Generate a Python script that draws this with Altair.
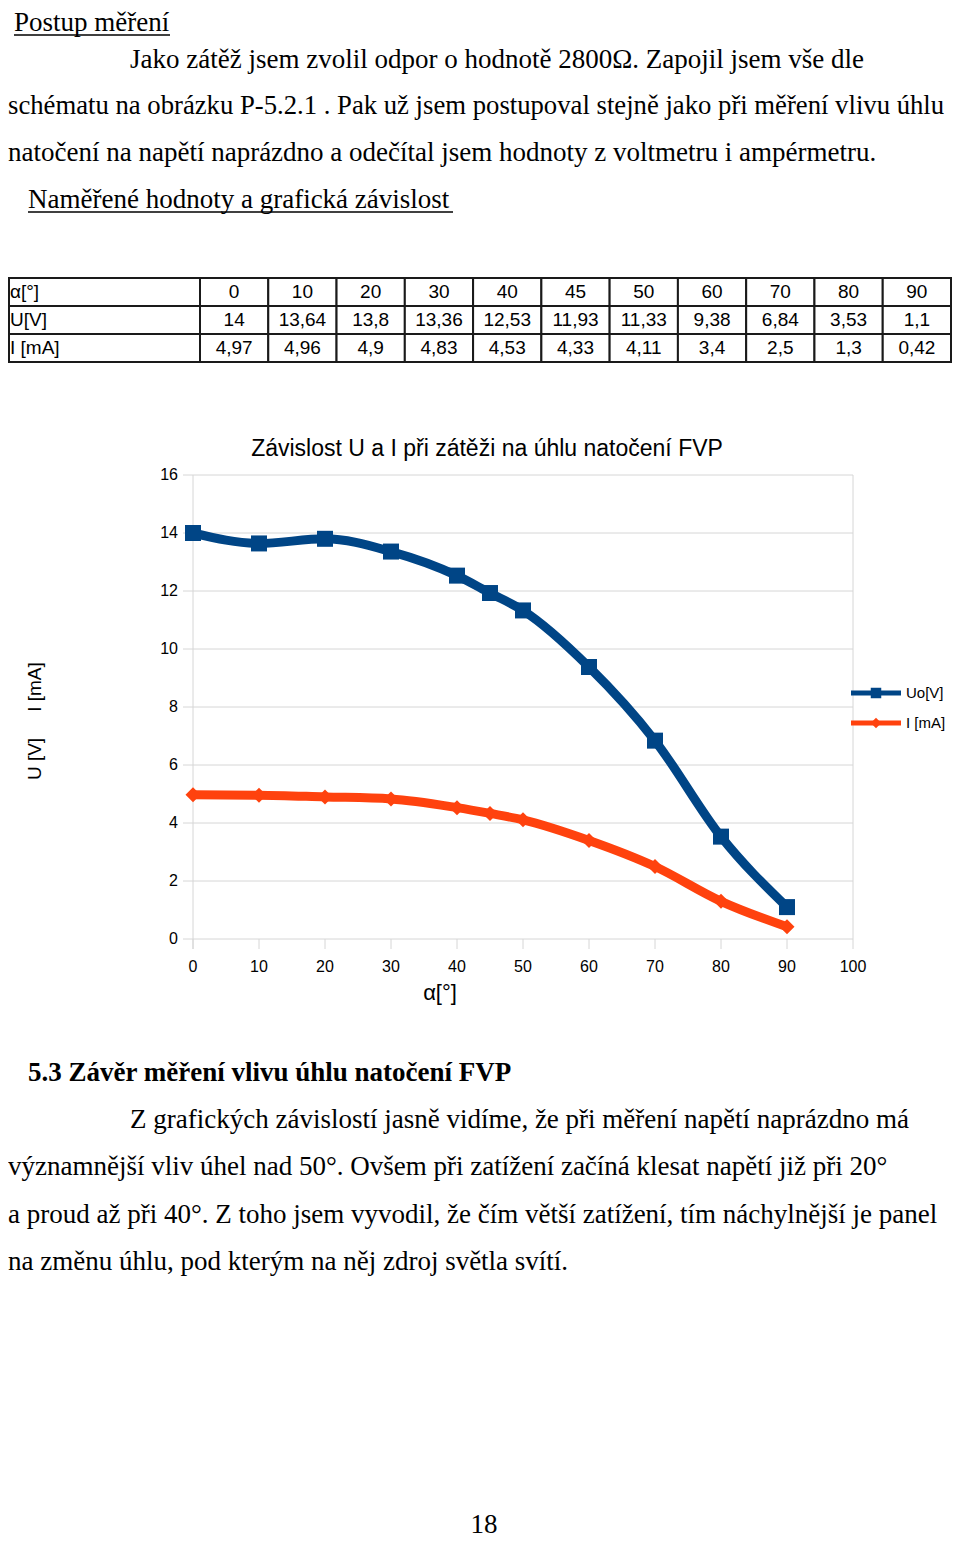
import altair as alt
import pandas as pd

# ---------------- data ----------------
alpha = [0, 10, 20, 30, 40, 45, 50, 60, 70, 80, 90]
u_volts = [14, 13.64, 13.8, 13.36, 12.53, 11.93, 11.33, 9.38, 6.84, 3.53, 1.1]
i_ma = [4.97, 4.96, 4.9, 4.83, 4.53, 4.33, 4.11, 3.4, 2.5, 1.3, 0.42]
row_labels = ["α[°]", "U[V]", "I [mA]"]
series_names = ["Uo[V]", "I [mA]"]
series_colors = ["#004586", "#ff420e"]
x_ticks = [0, 10, 20, 30, 40, 50, 60, 70, 80, 90, 100]
y_ticks = [0, 2, 4, 6, 8, 10, 12, 14, 16]

chart_title = "Závislost U a I při zátěži na úhlu natočení FVP"
x_title = "α[°]"
y_title_u = "U [V]"
y_title_i = "I [mA]"

heading_1 = "Postup měření"
paragraph_1 = [
    "Jako zátěž jsem zvolil odpor o hodnotě 2800Ω. Zapojil jsem vše dle",
    "schématu na obrázku P-5.2.1 . Pak už jsem postupoval stejně jako při měření vlivu úhlu",
    "natočení na napětí naprázdno a odečítal jsem hodnoty z voltmetru i ampérmetru.",
]
heading_2 = "Naměřené hodnoty a grafická závislost"
heading_3 = "5.3 Závěr měření vlivu úhlu natočení FVP"
paragraph_2 = [
    "Z grafických závislostí jasně vidíme, že při měření napětí naprázdno má",
    "významnější vliv úhel nad 50°. Ovšem při zatížení začíná klesat napětí již při 20°",
    "a proud až při 40°. Z toho jsem vyvodil, že čím větší zatížení, tím náchylnější je panel",
    "na změnu úhlu, pod kterým na něj zdroj světla svítí.",
]
page_number = "18"

# ---------------- layout / style ----------------
OFF = 8
SERIF = "Liberation Serif"
SANS = "Liberation Sans"
GRID = "#d6d6d6"
BODY = 27


def px(v):
    return max(0, v - OFF)


def fmt(v):
    return f"{v:g}".replace(".", ",")


def text_layer(s, x, y, size, font=SERIF, align="left", baseline="alphabetic",
               weight="normal", angle=0, color="#000000"):
    kw = dict(align=align, baseline=baseline, fontSize=size, font=font,
              fontWeight=weight, color=color)
    if angle:
        kw["angle"] = angle
    return alt.Chart(pd.DataFrame({"t": [s]})).mark_text(**kw).encode(
        x=alt.value(px(x)), y=alt.value(px(y)), text="t:N")


def rule_layer(x1, y1, x2, y2, color, width):
    return alt.Chart(pd.DataFrame({"k": [0]})).mark_rule(
        color=color, strokeWidth=width).encode(
        x=alt.value(px(x1)), x2=alt.value(px(x2)),
        y=alt.value(px(y1)), y2=alt.value(px(y2)))


layers = []

# ---------------- top text ----------------
layers.append(text_layer(heading_1, 14, 31, BODY))
layers.append(rule_layer(14, 35, 170, 35, "#000000", 1.5))
layers.append(text_layer(paragraph_1[0], 130, 68, BODY))
layers.append(text_layer(paragraph_1[1], 2, 114, 26.7))
layers.append(text_layer(paragraph_1[2], 2, 161, BODY))
layers.append(text_layer(heading_2, 28, 208, BODY))
layers.append(rule_layer(28, 212, 453, 212, "#000000", 1.5))

# ---------------- table ----------------
rows = []
for a, u, i in zip(alpha, u_volts, i_ma):
    rows.append({"col": str(a), "row": row_labels[0], "val": fmt(a)})
    rows.append({"col": str(a), "row": row_labels[1], "val": fmt(u)})
    rows.append({"col": str(a), "row": row_labels[2], "val": fmt(i)})
table_df = pd.DataFrame(rows)
col_domain = [str(a) for a in alpha]
col_scale = alt.Scale(type="band", domain=col_domain, range=[px(200), px(951)],
                      paddingInner=0, paddingOuter=0)
row_scale = alt.Scale(type="band", domain=row_labels, range=[px(278), px(362)],
                      paddingInner=0, paddingOuter=0)

layers.append(alt.Chart(table_df).mark_rect(fill="white", stroke="#1a1a1a", strokeWidth=2).encode(
    x=alt.X("col:N", scale=col_scale, axis=None),
    y=alt.Y("row:N", scale=row_scale, axis=None)))
layers.append(alt.Chart(pd.DataFrame({"row": row_labels})).mark_rect(
    fill="white", stroke="#1a1a1a", strokeWidth=2).encode(
    y=alt.Y("row:N", scale=row_scale, axis=None),
    x=alt.value(1), x2=alt.value(px(200))))
layers.append(alt.Chart(table_df).mark_text(fontSize=19, font=SANS, baseline="middle").encode(
    x=alt.X("col:N", scale=col_scale, axis=None),
    y=alt.Y("row:N", scale=row_scale, axis=None),
    text="val:N"))
layers.append(alt.Chart(pd.DataFrame({"row": row_labels})).mark_text(
    fontSize=19, font=SANS, baseline="middle", align="left").encode(
    y=alt.Y("row:N", scale=row_scale, axis=None),
    x=alt.value(px(10)), text="row:N"))

# ---------------- chart ----------------
x_scale = alt.Scale(domain=[0, 100], range=[px(193), px(853)])
y_scale = alt.Scale(domain=[0, 16], range=[px(939), px(475)])

ytick_df = pd.DataFrame({"v": y_ticks})
xtick_df = pd.DataFrame({"v": x_ticks})

layers.append(alt.Chart(ytick_df).mark_rule(color=GRID, strokeWidth=1).encode(
    y=alt.Y("v:Q", scale=y_scale, axis=None),
    x=alt.value(px(183)), x2=alt.value(px(853))))
layers.append(alt.Chart(xtick_df).mark_rule(color=GRID, strokeWidth=1).encode(
    x=alt.X("v:Q", scale=x_scale, axis=None),
    y=alt.value(px(939)), y2=alt.value(px(949))))
layers.append(rule_layer(193, 475, 193, 949, GRID, 1))
layers.append(rule_layer(853, 475, 853, 939, GRID, 1))

layers.append(alt.Chart(ytick_df).mark_text(align="right", baseline="middle", fontSize=16, font=SANS).encode(
    y=alt.Y("v:Q", scale=y_scale, axis=None),
    x=alt.value(px(178)), text=alt.Text("v:Q")))
layers.append(alt.Chart(xtick_df).mark_text(align="center", baseline="middle", fontSize=16, font=SANS).encode(
    x=alt.X("v:Q", scale=x_scale, axis=None),
    y=alt.value(px(967)), text=alt.Text("v:Q")))

layers.append(text_layer(chart_title, 487, 449, 23, font=SANS, align="center", baseline="middle"))
layers.append(text_layer(x_title, 440, 993, 22, font=SANS, align="center", baseline="middle"))
layers.append(text_layer(y_title_i, 35, 687, 19, font=SANS, align="center", baseline="middle", angle=270))
layers.append(text_layer(y_title_u, 35, 759, 19, font=SANS, align="center", baseline="middle", angle=270))

chart_df = pd.DataFrame({
    "alpha": alpha + alpha,
    "value": u_volts + i_ma,
    "series": [series_names[0]] * len(alpha) + [series_names[1]] * len(alpha),
})
layers.append(alt.Chart(chart_df).mark_line(strokeWidth=9, interpolate="monotone", strokeJoin="round").encode(
    x=alt.X("alpha:Q", scale=x_scale, axis=None),
    y=alt.Y("value:Q", scale=y_scale, axis=None),
    color=alt.Color("series:N", scale=alt.Scale(domain=series_names, range=series_colors), legend=None)))
layers.append(alt.Chart(chart_df).transform_filter(alt.datum.series == series_names[0]).mark_point(
    shape="square", filled=True, size=256, color=series_colors[0], opacity=1).encode(
    x=alt.X("alpha:Q", scale=x_scale, axis=None),
    y=alt.Y("value:Q", scale=y_scale, axis=None)))
layers.append(alt.Chart(chart_df).transform_filter(alt.datum.series == series_names[1]).mark_point(
    shape="diamond", filled=True, size=225, color=series_colors[1], opacity=1).encode(
    x=alt.X("alpha:Q", scale=x_scale, axis=None),
    y=alt.Y("value:Q", scale=y_scale, axis=None)))

# legend
one = pd.DataFrame({"k": [0]})
leg_y = [693, 723]
leg_shapes = ["square", "diamond"]
for name, col, ly, shp in zip(series_names, series_colors, leg_y, leg_shapes):
    layers.append(rule_layer(851, ly, 901, ly, col, 5))
    layers.append(alt.Chart(one).mark_point(shape=shp, filled=True, size=110, color=col, opacity=1).encode(
        x=alt.value(px(876)), y=alt.value(px(ly))))
    layers.append(text_layer(name, 906, ly, 15, font=SANS, align="left", baseline="middle"))

# ---------------- bottom text ----------------
layers.append(text_layer(heading_3, 28, 1081, BODY, weight="bold"))
layers.append(text_layer(paragraph_2[0], 130, 1128, BODY))
layers.append(text_layer(paragraph_2[1], 2, 1175, BODY))
layers.append(text_layer(paragraph_2[2], 2, 1223, BODY))
layers.append(text_layer(paragraph_2[3], 2, 1270, BODY))
layers.append(text_layer(page_number, 484, 1533, BODY, align="center"))

chart = alt.layer(*layers).resolve_scale(
    x="independent", y="independent", color="independent"
).properties(
    width=944, height=1533, padding=0,
    autosize=alt.AutoSizeParams(type="none"),
    background="white",
).configure_view(stroke=None)

chart.save("out.html", embed_options={"renderer": "svg", "actions": False})
